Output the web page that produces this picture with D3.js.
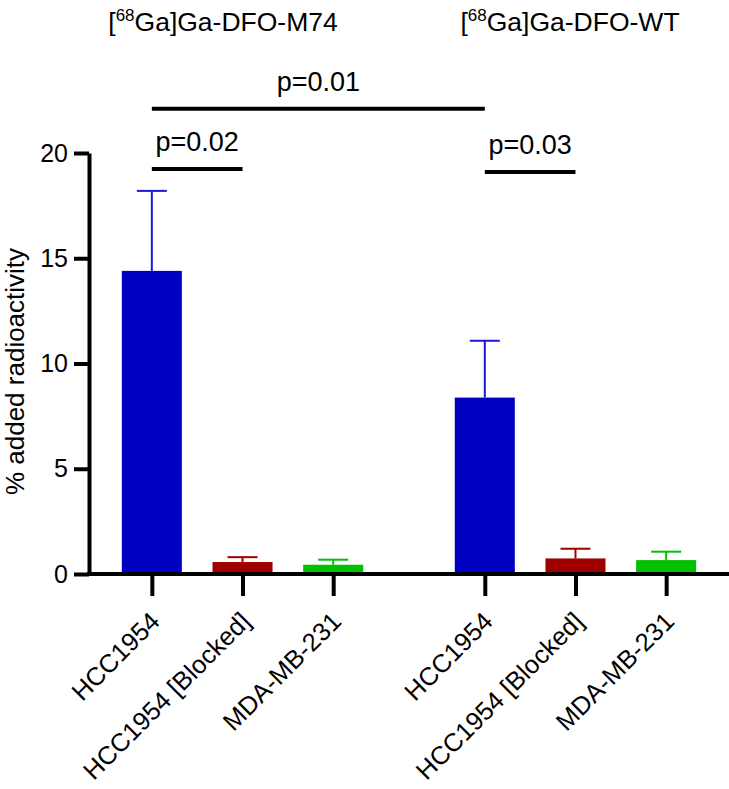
<!DOCTYPE html>
<html>
<head>
<meta charset="utf-8">
<script src="https://cdn.jsdelivr.net/npm/d3@7"></script>
<style>
  html, body { margin: 0; padding: 0; background: #fff; }
  svg { display: block; font-family: "Liberation Sans", Arial, sans-serif; }
</style>
</head>
<body>
<svg id="chart" width="729" height="789"></svg>
<script>
// ---------------- data ----------------
const groups = ["M74", "WT"];
const groupTitles = ["Ga]Ga-DFO-M74", "Ga]Ga-DFO-WT"];
const categories = ["HCC1954", "HCC1954 [Blocked]", "MDA-MB-231"];
const m74Means = [14.4, 0.57, 0.44];
const m74Errors = [3.8, 0.23, 0.24];
const wtMeans = [8.38, 0.74, 0.66];
const wtErrors = [2.7, 0.46, 0.40];
const yTicks = [0, 5, 10, 15, 20];
const yLabel = "% added radioactivity";
// significance comparisons: [groupA, catA] -> [groupB, catB], bracket level in data units
const compFrom = [["M74", "HCC1954"], ["WT", "HCC1954"], ["M74", "HCC1954"]];
const compTo = [["M74", "HCC1954 [Blocked]"], ["WT", "HCC1954 [Blocked]"], ["WT", "HCC1954"]];
const compLabels = ["p=0.02", "p=0.03", "p=0.01"];
const compLevels = [19.24, 19.1, 22.1];

// ---------------- layout ----------------
const colors = { "HCC1954": "#0000C0", "HCC1954 [Blocked]": "#A00000", "MDA-MB-231": "#00C000" };
const errColors = { "HCC1954": "#1a1ad6", "HCC1954 [Blocked]": "#A00000", "MDA-MB-231": "#00C000" };
const FONT = "Liberation Sans, Arial, sans-serif";

const svg = d3.select("#chart");
const yBase = 574, yTop = 153, axisX = 89;

const y = d3.scaleLinear().domain([0, 20]).range([yBase, yTop]);
const gx = d3.scaleBand().domain(groups).range([106.5, 711.5]).paddingInner(0.183).paddingOuter(0);
const ix = d3.scaleBand().domain(categories).range([0, gx.bandwidth()]).paddingInner(0.338).paddingOuter(0.169);

const data = [];
groups.forEach((g, gi) => {
  const means = gi === 0 ? m74Means : wtMeans;
  const errs = gi === 0 ? m74Errors : wtErrors;
  categories.forEach((c, ci) => data.push({ g, c, v: means[ci], e: errs[ci] }));
});
const cx = (g, c) => gx(g) + ix(c) + ix.bandwidth() / 2;

// bars
svg.append("g").selectAll("rect").data(data).join("rect")
  .attr("x", d => gx(d.g) + ix(d.c))
  .attr("width", ix.bandwidth())
  .attr("y", d => y(d.v))
  .attr("height", d => y(0) - y(d.v))
  .attr("fill", d => colors[d.c]);

// error bars (upper only)
const eb = svg.append("g").selectAll("g").data(data).join("g");
eb.append("line")
  .attr("x1", d => cx(d.g, d.c)).attr("x2", d => cx(d.g, d.c))
  .attr("y1", d => y(d.v)).attr("y2", d => y(d.v + d.e))
  .attr("stroke", d => errColors[d.c]).attr("stroke-width", 2);
eb.append("line")
  .attr("x1", d => cx(d.g, d.c) - 15).attr("x2", d => cx(d.g, d.c) + 15)
  .attr("y1", d => y(d.v + d.e)).attr("y2", d => y(d.v + d.e))
  .attr("stroke", d => errColors[d.c]).attr("stroke-width", 2);

// y axis
const yAxis = svg.append("g").attr("transform", `translate(${axisX},0)`)
  .call(d3.axisLeft(y).tickValues(yTicks).tickSize(15).tickSizeOuter(0).tickPadding(6));
yAxis.select(".domain").attr("stroke", "#000").attr("stroke-width", 4);
yAxis.selectAll(".tick line").attr("stroke", "#000").attr("stroke-width", 4);
yAxis.selectAll(".tick text").attr("font-size", 25).attr("fill", "#000")
  .attr("font-family", FONT);

// x axis
const xKeys = data.map(d => d.g + "|" + d.c);
const xPos = d3.scaleOrdinal().domain(xKeys).range(data.map(d => cx(d.g, d.c)));
const xAxis = svg.append("g").attr("transform", `translate(0,${yBase})`)
  .call(d3.axisBottom(xPos).tickSize(22).tickSizeOuter(0).tickFormat(k => k.split("|")[1]));
xAxis.select(".domain").remove();
xAxis.selectAll(".tick line").attr("stroke", "#000").attr("stroke-width", 4);
xAxis.selectAll(".tick text")
  .attr("font-size", 25.5).attr("fill", "#000")
  .attr("font-family", FONT)
  .attr("text-anchor", "end")
  .attr("y", 0).attr("dy", 0)
  .attr("transform", "translate(9,49) rotate(-45)");
svg.append("line")
  .attr("x1", axisX - 2).attr("x2", 729)
  .attr("y1", yBase).attr("y2", yBase)
  .attr("stroke", "#000").attr("stroke-width", 4);

// y label
svg.append("text")
  .attr("transform", `translate(24,${(yBase + yTop) / 2 + 8}) rotate(-90)`)
  .attr("text-anchor", "middle")
  .attr("font-size", 26).attr("fill", "#000")
  .text(yLabel);

// group titles with superscript
const titleX = [223, 570];
groups.forEach((g, i) => {
  const t = svg.append("text")
    .attr("x", titleX[i]).attr("y", 31)
    .attr("text-anchor", "middle")
    .attr("font-size", 26.5).attr("fill", "#000");
  t.append("tspan").text("[");
  t.append("tspan").attr("font-size", 17).attr("dy", -10).text("68");
  t.append("tspan").attr("dy", 10).text(groupTitles[i]);
});

// significance brackets
compLabels.forEach((lab, i) => {
  const x1 = cx(compFrom[i][0], compFrom[i][1]);
  const x2 = cx(compTo[i][0], compTo[i][1]);
  const yy = y(compLevels[i]);
  svg.append("line")
    .attr("x1", x1).attr("x2", x2).attr("y1", yy).attr("y2", yy)
    .attr("stroke", "#000").attr("stroke-width", 4);
  svg.append("text")
    .attr("x", (x1 + x2) / 2).attr("y", yy - 18)
    .attr("text-anchor", "middle")
    .attr("font-size", 27).attr("fill", "#000")
    .text(lab);
});
</script>
</body>
</html>
